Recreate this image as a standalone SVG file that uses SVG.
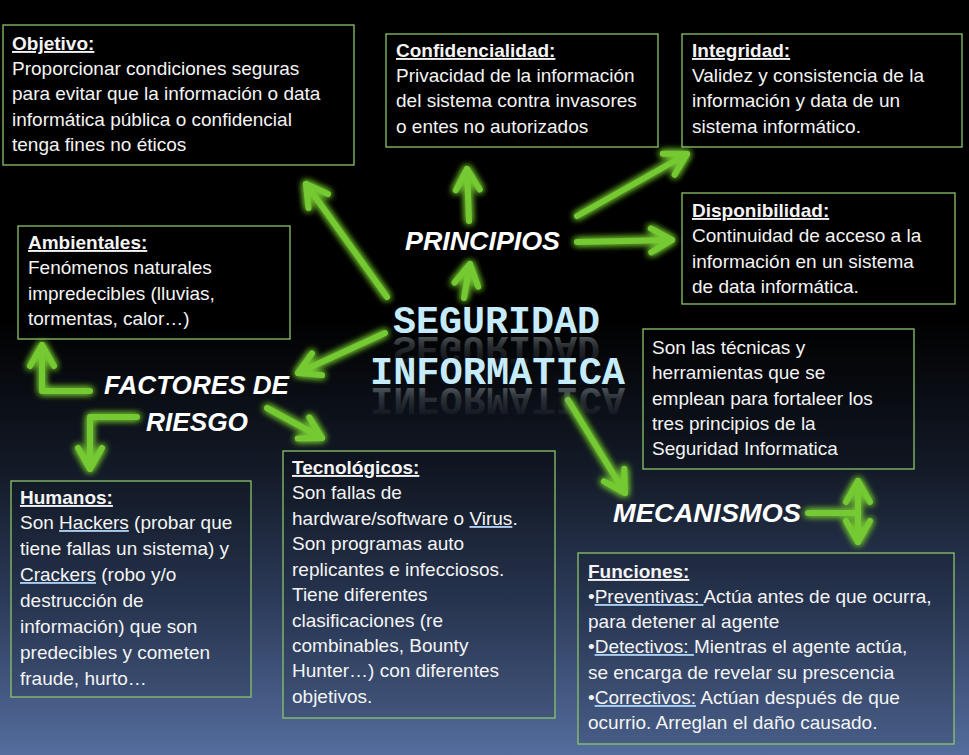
<svg xmlns="http://www.w3.org/2000/svg" xmlns:xlink="http://www.w3.org/1999/xlink" width="969" height="755" viewBox="0 0 969 755">
<defs>
<linearGradient id="bg" x1="0" y1="0" x2="0" y2="1">
<stop offset="0" stop-color="#000"/>
<stop offset="0.42" stop-color="#000"/>
<stop offset="0.62" stop-color="#131a27"/>
<stop offset="0.8" stop-color="#2d3c5b"/>
<stop offset="1" stop-color="#546d9d"/>
</linearGradient>
<linearGradient id="refl" x1="0" y1="0" x2="0" y2="1">
<stop offset="0" stop-color="#8a969c" stop-opacity="0"/>
<stop offset="0.5" stop-color="#8a969c" stop-opacity="0.25"/>
<stop offset="1" stop-color="#b9c3c8" stop-opacity="0.65"/>
</linearGradient>
<filter id="glow" x="-10%" y="-10%" width="120%" height="120%">
<feGaussianBlur in="SourceGraphic" stdDeviation="3.5" result="b"/>
<feMerge><feMergeNode in="b"/><feMergeNode in="b"/><feMergeNode in="SourceGraphic"/></feMerge>
</filter>
<marker id="ah" viewBox="-30 -18 36 36" refX="0" refY="0" markerWidth="36" markerHeight="36" markerUnits="userSpaceOnUse" orient="auto-start-reverse">
<path d="M-21,-12 L0,0 L-21,12" fill="none" stroke="#74c930" stroke-width="6" stroke-linecap="round" stroke-linejoin="round"/>
</marker>
<text id="segT" class="mono" x="393" y="333" textLength="207" lengthAdjust="spacingAndGlyphs">SEGURIDAD</text>
<text id="infT" class="mono" x="370" y="384" textLength="255" lengthAdjust="spacingAndGlyphs">INFORMATICA</text>
<style>
.box{fill:#000;fill-opacity:0.12;stroke:#8cc46a;stroke-width:1.3}
.t{font-family:"Liberation Sans",Arial,sans-serif;font-size:19px;fill:#f4f4f4}
.h{font-weight:bold;text-decoration:underline}
.ul{fill:#a9cdf0;text-decoration:underline}
.w{fill:#f4f4f4}
.lbl{font-family:"Liberation Sans",Arial,sans-serif;font-size:26px;font-weight:bold;font-style:italic;fill:#fff}
.mono{font-family:"Liberation Mono","DejaVu Sans Mono",monospace;font-size:38px;font-weight:bold}
</style>
</defs>
<rect width="969" height="755" fill="url(#bg)"/>

<g id="connectors" filter="url(#glow)" fill="none" stroke="#74c930" stroke-width="6" stroke-linecap="round" stroke-linejoin="round">
<line x1="387" y1="297" x2="306" y2="184" marker-end="url(#ah)"/>
<line x1="464" y1="298" x2="470" y2="264" marker-end="url(#ah)"/>
<line x1="469" y1="221" x2="467" y2="169" marker-end="url(#ah)"/>
<line x1="577" y1="216" x2="687" y2="154" marker-end="url(#ah)"/>
<line x1="577" y1="242" x2="672" y2="240" marker-end="url(#ah)"/>
<line x1="385" y1="333" x2="298" y2="373" marker-end="url(#ah)"/>
<polyline points="90,391 42,391 42,345" marker-end="url(#ah)"/>
<polyline points="137,417 90,417 90,469" marker-end="url(#ah)"/>
<line x1="267" y1="408" x2="322" y2="438" marker-end="url(#ah)"/>
<line x1="568" y1="400" x2="625" y2="493" marker-end="url(#ah)"/>
<line x1="808" y1="513" x2="858" y2="513"/>
<line x1="858" y1="481" x2="858" y2="542" marker-start="url(#ah)" marker-end="url(#ah)"/>
</g>

<g id="center">
<use xlink:href="#segT" href="#segT" transform="translate(0,670) scale(1,-1)" fill="url(#refl)"/>
<use xlink:href="#infT" href="#infT" transform="translate(0,772) scale(1,-1)" fill="url(#refl)"/>
<use xlink:href="#segT" href="#segT" fill="#c6ebfb"/>
<use xlink:href="#infT" href="#infT" fill="#c6ebfb"/>
</g>

<g id="principios"><text class="lbl" x="405" y="250" textLength="155" lengthAdjust="spacingAndGlyphs">PRINCIPIOS</text></g>
<g id="factores">
<text class="lbl" x="104" y="394" textLength="185" lengthAdjust="spacingAndGlyphs">FACTORES DE</text>
<text class="lbl" x="146" y="431" textLength="102" lengthAdjust="spacingAndGlyphs">RIESGO</text>
</g>
<g id="mecanismos"><text class="lbl" x="613" y="522" textLength="188" lengthAdjust="spacingAndGlyphs">MECANISMOS</text></g>

<g id="objetivo">
<rect class="box" x="3" y="25" width="351" height="140"/>
<text class="t"><tspan x="12" y="50" class="h">Objetivo:</tspan><tspan x="12" y="75">Proporcionar condiciones seguras</tspan><tspan x="12" y="100">para evitar que la información o data</tspan><tspan x="12" y="126">informática pública o confidencial</tspan><tspan x="12" y="151">tenga fines no éticos</tspan></text>
</g>

<g id="ambientales">
<rect class="box" x="18" y="226" width="272" height="113"/>
<text class="t"><tspan x="28" y="249" class="h">Ambientales:</tspan><tspan x="28" y="274">Fenómenos naturales</tspan><tspan x="28" y="300">impredecibles (lluvias,</tspan><tspan x="28" y="325">tormentas, calor…)</tspan></text>
</g>

<g id="confidencialidad">
<rect class="box" x="386" y="34" width="272" height="113"/>
<text class="t"><tspan x="396" y="57" class="h">Confidencialidad:</tspan><tspan x="396" y="82">Privacidad de la información</tspan><tspan x="396" y="107">del sistema contra invasores</tspan><tspan x="396" y="133">o entes no autorizados</tspan></text>
</g>

<g id="integridad">
<rect class="box" x="682" y="34" width="280" height="113"/>
<text class="t"><tspan x="692" y="57" class="h">Integridad:</tspan><tspan x="692" y="82">Validez y consistencia de la</tspan><tspan x="692" y="107">información y data de un</tspan><tspan x="692" y="133">sistema informático.</tspan></text>
</g>

<g id="disponibilidad">
<rect class="box" x="682" y="193" width="273" height="111"/>
<text class="t"><tspan x="692" y="217" class="h">Disponibilidad:</tspan><tspan x="692" y="242">Continuidad de acceso a la</tspan><tspan x="692" y="268">información en un sistema</tspan><tspan x="692" y="293">de data informática.</tspan></text>
</g>

<g id="mecanismos-desc">
<rect class="box" x="643" y="329" width="271" height="140"/>
<text class="t"><tspan x="652" y="354">Son las técnicas y</tspan><tspan x="652" y="379">herramientas que se</tspan><tspan x="652" y="405">emplean para fortaleer los</tspan><tspan x="652" y="430">tres principios de la</tspan><tspan x="652" y="455">Seguridad Informatica</tspan></text>
</g>

<g id="humanos">
<rect class="box" x="11" y="481" width="240" height="216"/>
<text class="t"><tspan x="20" y="504" class="h">Humanos:</tspan><tspan x="20" y="529">Son <tspan class="ul"><tspan class="w">Hackers</tspan></tspan> (probar que</tspan><tspan x="20" y="555">tiene fallas un sistema) y</tspan><tspan x="20" y="581"><tspan class="ul"><tspan class="w">Crackers</tspan></tspan> (robo y/o</tspan><tspan x="20" y="607">destrucción de</tspan><tspan x="20" y="633">información) que son</tspan><tspan x="20" y="659">predecibles y cometen</tspan><tspan x="20" y="685">fraude, hurto…</tspan></text>
</g>

<g id="tecnologicos">
<rect class="box" x="283" y="451" width="272" height="267"/>
<text class="t"><tspan x="292" y="474" class="h">Tecnológicos:</tspan><tspan x="292" y="499">Son fallas de</tspan><tspan x="292" y="525">hardware/software o <tspan class="ul"><tspan class="w">Virus</tspan></tspan>.</tspan><tspan x="292" y="550">Son programas auto</tspan><tspan x="292" y="576">replicantes e infecciosos.</tspan><tspan x="292" y="601">Tiene diferentes</tspan><tspan x="292" y="627">clasificaciones (re</tspan><tspan x="292" y="652">combinables, Bounty</tspan><tspan x="292" y="677">Hunter…) con diferentes</tspan><tspan x="292" y="703">objetivos.</tspan></text>
</g>

<g id="funciones">
<rect class="box" x="578" y="553" width="376" height="191"/>
<text class="t"><tspan x="588" y="578" class="h">Funciones:</tspan><tspan x="588" y="603">•<tspan class="ul"><tspan class="w">Preventivas: </tspan></tspan>Actúa antes de que ocurra,</tspan><tspan x="588" y="628">para detener al agente</tspan><tspan x="588" y="653">•<tspan class="ul"><tspan class="w">Detectivos: </tspan></tspan>Mientras el agente actúa,</tspan><tspan x="588" y="679">se encarga de revelar su prescencia</tspan><tspan x="588" y="704">•<tspan class="ul"><tspan class="w">Correctivos:</tspan></tspan> Actúan después de que</tspan><tspan x="588" y="729">ocurrio. Arreglan el daño causado.</tspan></text>
</g>
</svg>
